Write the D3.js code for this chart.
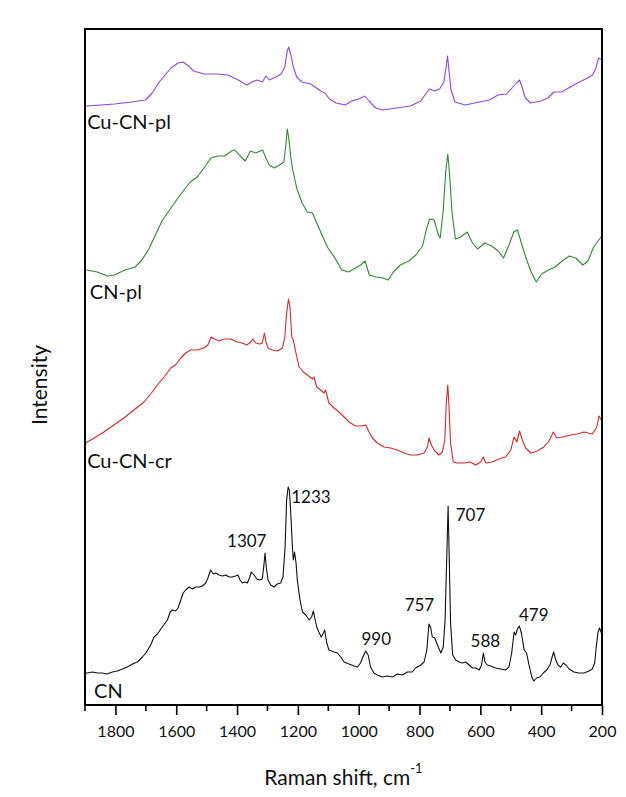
<!DOCTYPE html>
<html>
<head>
<meta charset="utf-8">
<script src="https://cdn.jsdelivr.net/npm/d3@7"></script>
<style>
  body { margin: 0; background: #fff; }
  svg text { font-family: Lato, "Open Sans", sans-serif; fill: #111; }
</style>
</head>
<body>
<svg width="626" height="797"></svg>
<script>
// Raman spectra, stacked with offsets: [wavenumber cm-1, intensity (a.u.)]
const cnSpectrum = [[1900,32],[1892,32],[1876,33],[1859,32],[1843,32],[1827,31],[1810,33],[1794,34],[1777,36],[1761,38],[1744,41],[1728,43],[1711,48],[1700,52],[1684,60],[1673,68],[1662,71],[1646,78],[1629,85],[1620,93],[1613,95],[1602,94],[1594,97],[1585,105],[1577,112],[1569,115],[1558,118],[1547,116],[1536,118],[1525,118],[1514,119],[1503,122],[1496,127],[1487,135],[1478,131],[1470,132],[1459,130],[1448,129],[1437,130],[1426,128],[1415,128],[1405,129],[1397,130],[1390,125],[1383,122],[1375,123],[1366,122],[1358,128],[1353,133],[1344,130],[1335,126],[1325,125],[1317,126],[1311,142],[1308,152],[1304,138],[1298,125],[1289,120],[1278,118],[1268,121],[1257,122],[1249,128],[1242,158],[1237,205],[1232,218],[1228,215],[1224,195],[1218,158],[1215,145],[1211,153],[1206,142],[1202,125],[1193,105],[1185,93],[1174,90],[1163,85],[1155,88],[1149,94],[1145,88],[1138,78],[1131,73],[1123,68],[1116,72],[1112,75],[1105,62],[1098,55],[1081,53],[1070,52],[1059,48],[1048,43],[1032,41],[1015,39],[1004,38],[994,42],[985,49],[977,54],[969,50],[961,38],[950,32],[939,30],[922,28],[906,29],[889,28],[873,31],[856,30],[840,33],[824,33],[813,37],[796,40],[785,43],[776,55],[769,81],[763,77],[758,68],[750,67],[741,60],[730,52],[722,58],[716,85],[711,142],[706,199],[702,142],[698,82],[691,50],[681,45],[670,43],[659,42],[648,43],[637,40],[626,37],[615,37],[604,35],[596,40],[590,52],[585,43],[577,40],[566,39],[550,37],[533,36],[517,35],[506,38],[497,52],[489,73],[484,70],[478,76],[472,79],[465,72],[456,55],[448,52],[440,40],[431,28],[424,24],[415,27],[404,28],[393,32],[382,35],[371,40],[364,48],[359,53],[352,45],[345,40],[336,38],[327,42],[319,40],[308,36],[292,33],[276,32],[259,32],[243,34],[232,36],[224,42],[219,58],[213,73],[208,77],[202,72],[200,66]];

const cuCnCrSpectrum = [[1900,261],[1898,262],[1870,267],[1838,273],[1805,280],[1772,287],[1739,295],[1706,303],[1684,311],[1662,320],[1640,328],[1618,337],[1602,340],[1585,347],[1569,352],[1553,355],[1531,355],[1509,357],[1496,360],[1485,368],[1474,366],[1459,364],[1443,366],[1421,366],[1399,363],[1383,362],[1368,360],[1355,363],[1348,366],[1339,362],[1325,361],[1317,362],[1310,372],[1305,363],[1298,357],[1284,355],[1267,354],[1251,357],[1243,368],[1237,392],[1231,406],[1226,398],[1220,368],[1215,365],[1207,353],[1196,338],[1182,333],[1169,330],[1152,326],[1147,328],[1138,318],[1125,315],[1114,312],[1109,315],[1098,302],[1081,297],[1065,293],[1048,288],[1032,283],[1010,279],[993,279],[977,280],[966,273],[955,267],[939,262],[917,258],[895,257],[873,255],[851,252],[829,250],[807,250],[785,252],[774,258],[769,267],[761,260],[752,255],[736,250],[725,253],[717,265],[712,302],[707,320],[703,298],[698,262],[689,243],[676,242],[654,242],[634,243],[615,240],[599,243],[590,248],[582,242],[561,243],[539,246],[517,248],[500,255],[489,268],[480,263],[471,274],[462,265],[451,257],[434,252],[413,254],[391,258],[374,264],[360,273],[349,267],[330,268],[303,270],[281,271],[259,273],[232,271],[217,278],[210,289],[202,285],[200,278]];

const cnPlSpectrum = [[1900,435],[1894,435],[1860,433],[1826,429],[1803,430],[1769,435],[1735,438],[1713,445],[1690,456],[1667,471],[1645,485],[1622,495],[1599,505],[1577,514],[1554,523],[1531,528],[1509,537],[1486,547],[1463,549],[1441,549],[1418,554],[1407,555],[1390,549],[1373,544],[1356,554],[1339,552],[1316,555],[1305,547],[1294,540],[1277,537],[1260,540],[1246,543],[1239,561],[1235,576],[1230,567],[1223,547],[1217,535],[1203,516],[1186,502],[1169,493],[1152,492],[1135,480],[1118,468],[1101,457],[1078,447],[1056,435],[1033,433],[1011,437],[993,440],[979,444],[965,430],[943,428],[920,427],[903,425],[886,433],[863,440],[835,444],[812,450],[790,459],[778,475],[767,486],[752,485],[739,471],[732,467],[722,495],[714,533],[707,551],[701,530],[693,492],[682,466],[665,468],[643,473],[626,462],[609,456],[586,462],[563,459],[541,454],[524,447],[507,459],[490,473],[478,475],[467,464],[450,447],[433,433],[416,423],[399,431],[376,435],[354,438],[331,444],[308,449],[286,447],[263,440],[246,444],[229,457],[218,462],[201,469],[200,469]];

const cuCnPlSpectrum = [[1900,599],[1894,599],[1849,600],[1803,601],[1747,603],[1701,605],[1679,612],[1656,623],[1634,631],[1617,637],[1594,642],[1577,643],[1560,639],[1543,634],[1509,631],[1464,631],[1430,630],[1396,625],[1368,620],[1351,623],[1334,625],[1317,623],[1305,629],[1294,625],[1272,628],[1255,631],[1243,638],[1235,654],[1230,658],[1223,650],[1215,638],[1204,628],[1187,623],[1158,621],[1125,614],[1111,612],[1096,606],[1074,602],[1045,600],[1023,604],[1000,606],[980,609],[966,604],[944,597],[921,595],[876,597],[830,599],[796,604],[780,611],[768,616],[751,614],[734,616],[720,623],[713,637],[708,649],[704,637],[697,616],[684,603],[649,600],[604,603],[570,605],[542,610],[514,611],[493,618],[478,623],[471,625],[463,618],[452,607],[435,602],[401,604],[378,607],[358,613],[333,613],[310,617],[287,621],[254,626],[231,630],[220,637],[211,647],[200,645]];

const seriesNames  = ["CN", "Cu-CN-cr", "CN-pl", "Cu-CN-pl"];
const seriesColors = ["#111111", "#d42a2a", "#2e8b2e", "#9146e0"];
// name label anchor (wavenumber, intensity at its baseline)
const nameWn  = [1870, 1893, 1884, 1893];
const nameVal = [7, 237, 406, 576];

const peakText = ["1307", "1233", "990", "757", "707", "588", "479"];
const peakWn   = [1433, 1222, 991, 849, 681, 632, 473];
const peakVal  = [158, 202, 60, 94, 184, 58, 84];

const xTicks = [1800, 1600, 1400, 1200, 1000, 800, 600, 400, 200];
const xMinor = [1900, 1700, 1500, 1300, 1100, 900, 700, 500, 300];

const svg = d3.select("svg");
const margin = {left: 85, right: 24, top: 29, bottom: 92};
const W = +svg.attr("width"), H = +svg.attr("height");

const x = d3.scaleLinear().domain([1900, 200]).range([margin.left, W - margin.right]);
const y = d3.scaleLinear().domain([0, 676]).range([H - margin.bottom, margin.top]);

const series = [cnSpectrum, cuCnCrSpectrum, cnPlSpectrum, cuCnPlSpectrum];

const line = d3.line()
  .x(d => x(d[0]))
  .y(d => y(d[1]));

svg.append("g").selectAll("path")
  .data(series)
  .join("path")
  .attr("fill", "none")
  .attr("stroke", (d, i) => seriesColors[i])
  .attr("stroke-width", 1.1)
  .attr("stroke-linejoin", "round")
  .attr("d", line);

// series names
svg.append("g").selectAll("text")
  .data(seriesNames)
  .join("text")
  .attr("x", (d, i) => x(nameWn[i]))
  .attr("y", (d, i) => y(nameVal[i]))
  .attr("font-size", 20)
  .text(d => d);

// peak positions on CN
svg.append("g").selectAll("text")
  .data(peakText)
  .join("text")
  .attr("x", (d, i) => x(peakWn[i]))
  .attr("y", (d, i) => y(peakVal[i]))
  .attr("font-size", 17)
  .text(d => d);

// frame
svg.append("rect")
  .attr("x", margin.left).attr("y", margin.top)
  .attr("width", W - margin.left - margin.right)
  .attr("height", H - margin.top - margin.bottom)
  .attr("fill", "none").attr("stroke", "#000").attr("stroke-width", 2);

// x axis, major + minor ticks
const xAxis = svg.append("g")
  .attr("transform", `translate(0,${H - margin.bottom})`)
  .call(d3.axisBottom(x).tickValues(xTicks).tickSize(10).tickPadding(11).tickFormat(d3.format("d")));
xAxis.select(".domain").remove();
xAxis.selectAll(".tick line").attr("stroke", "#000").attr("stroke-width", 1.6);
xAxis.selectAll(".tick text").attr("font-size", 16).attr("font-family", "Lato, sans-serif").attr("fill", "#111");

svg.append("g")
  .attr("transform", `translate(0,${H - margin.bottom})`)
  .selectAll("line")
  .data(xMinor)
  .join("line")
  .attr("x1", d => x(d)).attr("x2", d => x(d))
  .attr("y1", 0).attr("y2", 6)
  .attr("stroke", "#000").attr("stroke-width", 1.6);

// axis titles
const xt = svg.append("text")
  .attr("x", (margin.left + W - margin.right) / 2)
  .attr("y", 785)
  .attr("text-anchor", "middle")
  .attr("font-size", 21);
xt.append("tspan").text("Raman shift, cm");
xt.append("tspan").attr("dy", -12).attr("font-size", 13).text("-1");

svg.append("text")
  .attr("transform", "translate(47,385) rotate(-90)")
  .attr("text-anchor", "middle")
  .attr("font-size", 21)
  .text("Intensity");
</script>
</body>
</html>
